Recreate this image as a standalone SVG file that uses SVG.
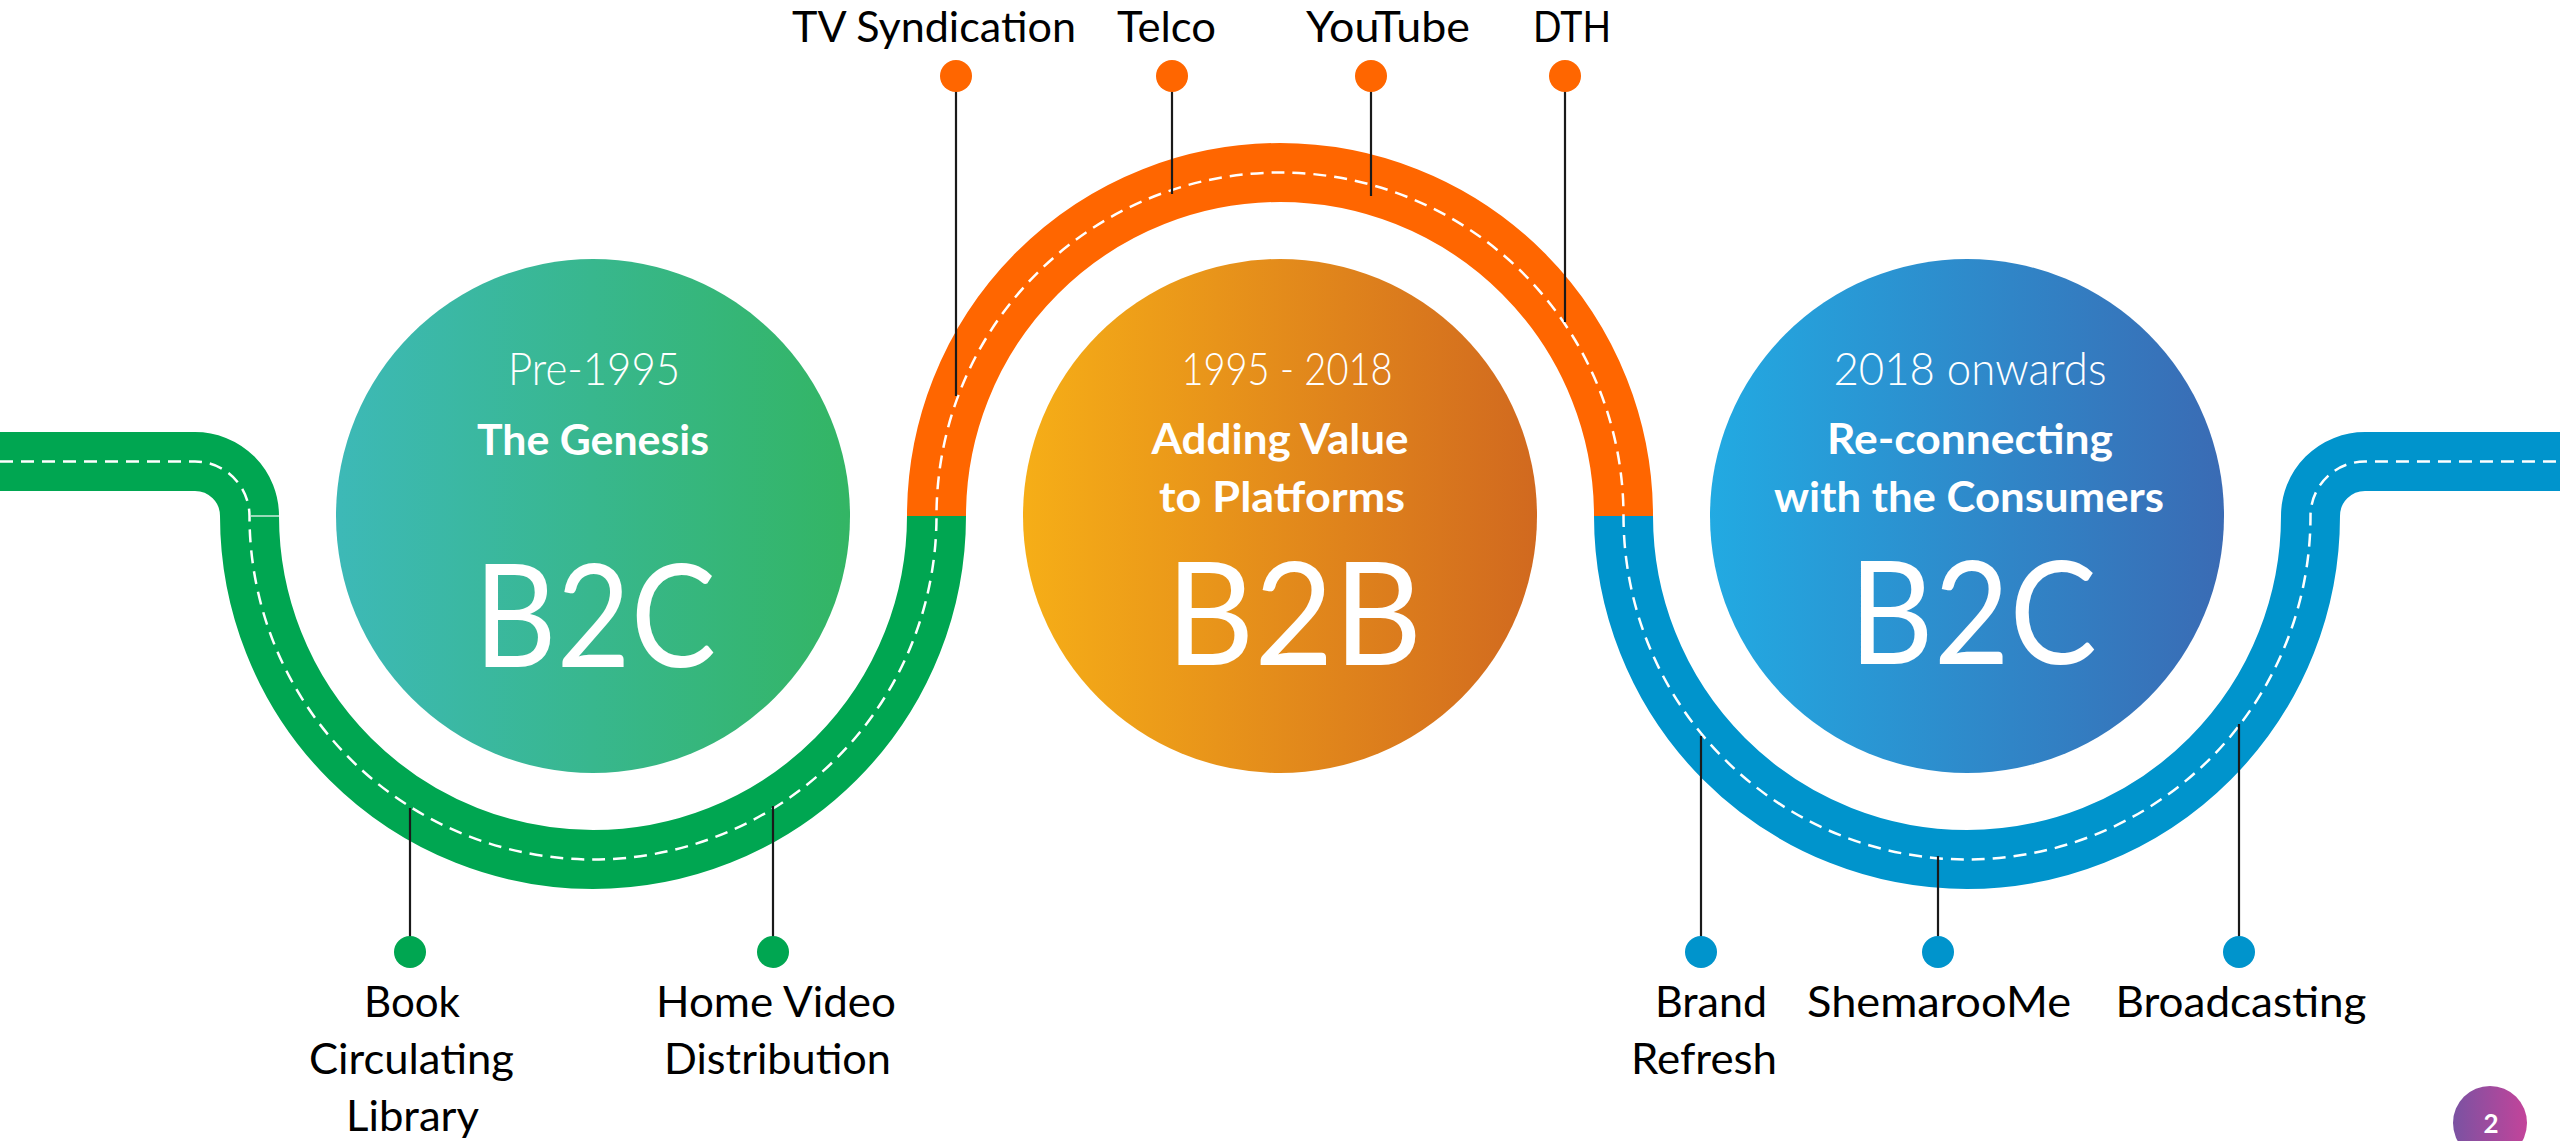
<svg xmlns="http://www.w3.org/2000/svg" width="2560" height="1141" viewBox="0 0 2560 1141">
<defs>
<linearGradient id="gGreen" x1="0" y1="0" x2="1" y2="0"><stop offset="0" stop-color="#3db9b7"/><stop offset="1" stop-color="#33b564"/></linearGradient>
<linearGradient id="gOrange" x1="0" y1="0" x2="1" y2="0"><stop offset="0" stop-color="#f6ae17"/><stop offset="1" stop-color="#d1691f"/></linearGradient>
<linearGradient id="gBlue" x1="0" y1="0" x2="1" y2="0"><stop offset="0" stop-color="#22aae2"/><stop offset="1" stop-color="#3a6bb4"/></linearGradient>
<linearGradient id="gPurple" x1="0" y1="0" x2="1" y2="0"><stop offset="0" stop-color="#7a52a2"/><stop offset="1" stop-color="#c3449a"/></linearGradient>
</defs>
<style>
.road{fill:none;stroke-width:59;stroke-linecap:butt}
.dash{fill:none;stroke:#fff;stroke-width:2.5;stroke-dasharray:13 8}
.conn{stroke:#1a1a1a;stroke-width:2.2}
.lbl{font-family:Lato,"Liberation Sans",sans-serif;font-size:42px;fill:#000;text-anchor:middle}
.yr{font-family:Lato,"Liberation Sans",sans-serif;font-size:46px;font-weight:300;fill:#fff;text-anchor:middle}
.ttl{font-family:Lato,"Liberation Sans",sans-serif;font-size:42px;font-weight:700;fill:#fff;text-anchor:middle}
.big{font-family:Lato,"Liberation Sans",sans-serif;font-size:144px;fill:#fff;text-anchor:middle}
</style>
<rect width="2560" height="1141" fill="#fff"/>
<g id="road">
<path class="road" stroke="#00a651" d="M0 461.5 H195 A54.5 54.5 0 0 1 249.5 516 A343.5 343.5 0 0 0 936.5 516"/>
<path class="road" stroke="#ff6600" d="M936.5 516 A343.5 343.5 0 0 1 1623.5 516"/>
<path class="road" stroke="#0094cc" d="M1623.5 516 A343.5 343.5 0 0 0 2310.5 516 A54.5 54.5 0 0 1 2365 461.5 H2560"/>
<path class="dash" d="M0 461.5 H195 A54.5 54.5 0 0 1 249.5 516 A343.5 343.5 0 0 0 936.5 516 A343.5 343.5 0 0 1 1623.5 516 A343.5 343.5 0 0 0 2310.5 516 A54.5 54.5 0 0 1 2365 461.5 H2560"/>
<line x1="251" y1="516" x2="279" y2="516" stroke="#fff" stroke-width="1.2"/>
</g>
<g id="connectors">
<line class="conn" x1="956" y1="76" x2="956" y2="396"/>
<line class="conn" x1="1172" y1="76" x2="1172" y2="194"/>
<line class="conn" x1="1371" y1="76" x2="1371" y2="196"/>
<line class="conn" x1="1565" y1="76" x2="1565" y2="322"/>
<line class="conn" x1="410" y1="808" x2="410" y2="952"/>
<line class="conn" x1="773" y1="806" x2="773" y2="952"/>
<line class="conn" x1="1701" y1="736" x2="1701" y2="952"/>
<line class="conn" x1="1938" y1="856" x2="1938" y2="952"/>
<line class="conn" x1="2239" y1="724" x2="2239" y2="952"/>
</g>
<g id="era-pre1995">
<circle cx="593" cy="516" r="257" fill="url(#gGreen)"/>
<text class="yr" x="594" y="385" textLength="172" lengthAdjust="spacingAndGlyphs">Pre-1995</text>
<text class="ttl" x="593" y="455" textLength="232" lengthAdjust="spacingAndGlyphs">The Genesis</text>
<text class="big" x="595" y="667" textLength="242" lengthAdjust="spacingAndGlyphs">B2C</text>
</g>
<g id="era-1995-2018">
<circle cx="1280" cy="516" r="257" fill="url(#gOrange)"/>
<text class="yr" x="1287" y="385" textLength="211" lengthAdjust="spacingAndGlyphs">1995 - 2018</text>
<text class="ttl" x="1280" y="454" textLength="257" lengthAdjust="spacingAndGlyphs">Adding Value</text>
<text class="ttl" x="1282" y="512" textLength="246" lengthAdjust="spacingAndGlyphs">to Platforms</text>
<text class="big" x="1294" y="665" textLength="256" lengthAdjust="spacingAndGlyphs">B2B</text>
</g>
<g id="era-2018">
<circle cx="1967" cy="516" r="257" fill="url(#gBlue)"/>
<text class="yr" x="1970" y="385" textLength="273" lengthAdjust="spacingAndGlyphs">2018 onwards</text>
<text class="ttl" x="1970" y="454" textLength="286" lengthAdjust="spacingAndGlyphs">Re-connecting</text>
<text class="ttl" x="1969" y="512" textLength="390" lengthAdjust="spacingAndGlyphs">with the Consumers</text>
<text class="big" x="1973" y="664" textLength="248" lengthAdjust="spacingAndGlyphs">B2C</text>
</g>
<g id="tv-syndication">
<circle cx="956" cy="76" r="16" fill="#ff6600"/>
<text class="lbl" x="934" y="42" textLength="284" lengthAdjust="spacingAndGlyphs">TV Syndication</text>
</g>
<g id="telco">
<circle cx="1172" cy="76" r="16" fill="#ff6600"/>
<text class="lbl" x="1166.5" y="42" textLength="99" lengthAdjust="spacingAndGlyphs">Telco</text>
</g>
<g id="youtube">
<circle cx="1371" cy="76" r="16" fill="#ff6600"/>
<text class="lbl" x="1388" y="42" textLength="164" lengthAdjust="spacingAndGlyphs">YouTube</text>
</g>
<g id="dth">
<circle cx="1565" cy="76" r="16" fill="#ff6600"/>
<text class="lbl" x="1572" y="42" textLength="78" lengthAdjust="spacingAndGlyphs">DTH</text>
</g>
<g id="book-library">
<circle cx="410" cy="952" r="16" fill="#00a651"/>
<text class="lbl" x="412" y="1017" textLength="96" lengthAdjust="spacingAndGlyphs">Book</text>
<text class="lbl" x="411.5" y="1074" textLength="205" lengthAdjust="spacingAndGlyphs">Circulating</text>
<text class="lbl" x="412.5" y="1131" textLength="133" lengthAdjust="spacingAndGlyphs">Library</text>
</g>
<g id="home-video">
<circle cx="773" cy="952" r="16" fill="#00a651"/>
<text class="lbl" x="776" y="1017" textLength="240" lengthAdjust="spacingAndGlyphs">Home Video</text>
<text class="lbl" x="777.5" y="1074" textLength="227" lengthAdjust="spacingAndGlyphs">Distribution</text>
</g>
<g id="brand-refresh">
<circle cx="1701" cy="952" r="16" fill="#0094cc"/>
<text class="lbl" x="1711" y="1017" textLength="112" lengthAdjust="spacingAndGlyphs">Brand</text>
<text class="lbl" x="1704" y="1074" textLength="146" lengthAdjust="spacingAndGlyphs">Refresh</text>
</g>
<g id="shemaroome">
<circle cx="1938" cy="952" r="16" fill="#0094cc"/>
<text class="lbl" x="1939" y="1017" textLength="264" lengthAdjust="spacingAndGlyphs">ShemarooMe</text>
</g>
<g id="broadcasting">
<circle cx="2239" cy="952" r="16" fill="#0094cc"/>
<text class="lbl" x="2241" y="1017" textLength="251" lengthAdjust="spacingAndGlyphs">Broadcasting</text>
</g>
<g id="page-number">
<circle cx="2490" cy="1123" r="37" fill="url(#gPurple)"/>
<text x="2491" y="1133" font-family="Lato, 'Liberation Sans', sans-serif" font-size="26" font-weight="700" fill="#fff" text-anchor="middle">2</text>
</g>
</svg>
